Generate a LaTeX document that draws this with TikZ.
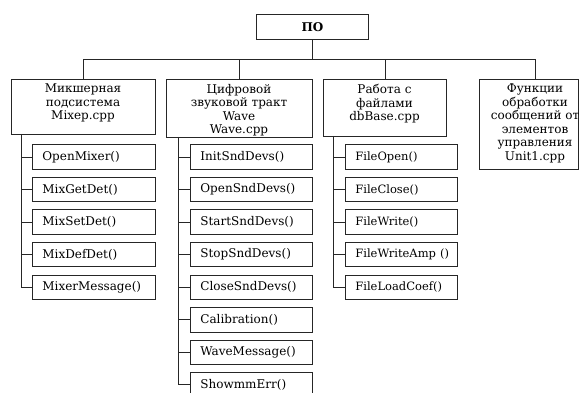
\documentclass[tikz,border=0pt]{standalone}
\usepackage{fontspec}
\setmainfont{DejaVu Serif}
\begin{document}
\begin{tikzpicture}[x=1pt,y=-1pt,
  every node/.style={font=\fontsize{12}{13.5}\selectfont},
  frame/.style={draw=black!85, line width=0.8pt, inner sep=0pt, anchor=north west},
  ptext/.style={inner sep=0pt, anchor=north, align=center},
  leaf/.style={draw=black!85, line width=0.8pt, anchor=north west, inner xsep=10pt, inner ysep=0pt, minimum height=24.5pt, align=left},
  conn/.style={draw=black!85, line width=0.8pt}]
\clip (0,0) rectangle (579,393);
\fill[white] (0,0) rectangle (579,393);
% root
\node[frame, minimum width=112pt, minimum height=25pt, font=\fontsize{12}{13.5}\selectfont\bfseries] (po) at (256,14) {ПО};
% parents
\node[frame, minimum width=144pt, minimum height=55pt] (b1) at (11,79) {};
\node[frame, minimum width=146pt, minimum height=58pt] (b2) at (166,79) {};
\node[frame, minimum width=123pt, minimum height=57pt] (b3) at (323,79) {};
\node[frame, minimum width=99pt, minimum height=90pt] (b4) at (479,79) {};
\coordinate (b4top) at (535,79);
\node[ptext] (b1t) at (83,84) {Микшерная\\подсистема\\Mixep.cpp};
\node[ptext] (b2t) at (239,84) {Цифровой\\звуковой тракт\\Wave\\Wave.cpp};
\node[ptext] (b3t) at (384.5,84) {Работа с\\файлами\\dbBase.cpp};
\node[ptext] (b4t) at (535,84) {Функции\\обработки\\сообщений от\\элементов\\управления\\Unit1.cpp};
% bus
\path (po.south) -- ++(0,20) coordinate (bus);
\draw[conn] (po.south) -- (bus);
\draw[conn] (b1.north) |- (bus) -| (b4top);
\draw[conn] (b2.north) |- (bus);
\draw[conn] (b3.north) |- (bus);
% column 1
\foreach \i/\t in {1/OpenMixer(),2/MixGetDet(),3/MixSetDet(),4/MixDefDet(),5/MixerMessage()}
  \node[leaf, text width=103pt] (m\i) at (32,{144.5+32.5*(\i-1)}) {\mbox{\t}};
\coordinate (t1) at (21,134);
\draw[conn] (t1) |- (m5.west);
\foreach \i in {1,...,4} \draw[conn] (t1 |- m\i.west) -- (m\i.west);
% column 2
\foreach \i/\t in {1/InitSndDevs(),2/OpenSndDevs(),3/StartSndDevs(),4/StopSndDevs(),5/CloseSndDevs(),6/Calibration(),7/WaveMessage(),8/ShowmmErr()}
  \node[leaf, text width=102pt] (w\i) at (190,{144.5+32.5*(\i-1)}) {\mbox{\t}};
\coordinate (t2) at (178,137);
\draw[conn] (t2) |- (w8.west);
\foreach \i in {1,...,7} \draw[conn] (t2 |- w\i.west) -- (w\i.west);
% column 3
\foreach \i/\t in {1/FileOpen(),2/FileClose(),3/FileWrite(),4/FileWriteAmp (),5/FileLoadCoef()}
  \node[leaf, text width=92pt] (f\i) at (345,{144.5+32.5*(\i-1)}) {\mbox{\fontsize{11.5}{13.5}\selectfont\t}};
\coordinate (t3) at (333,136);
\draw[conn] (t3) |- (f5.west);
\foreach \i in {1,...,4} \draw[conn] (t3 |- f\i.west) -- (f\i.west);
\end{tikzpicture}
\end{document}
